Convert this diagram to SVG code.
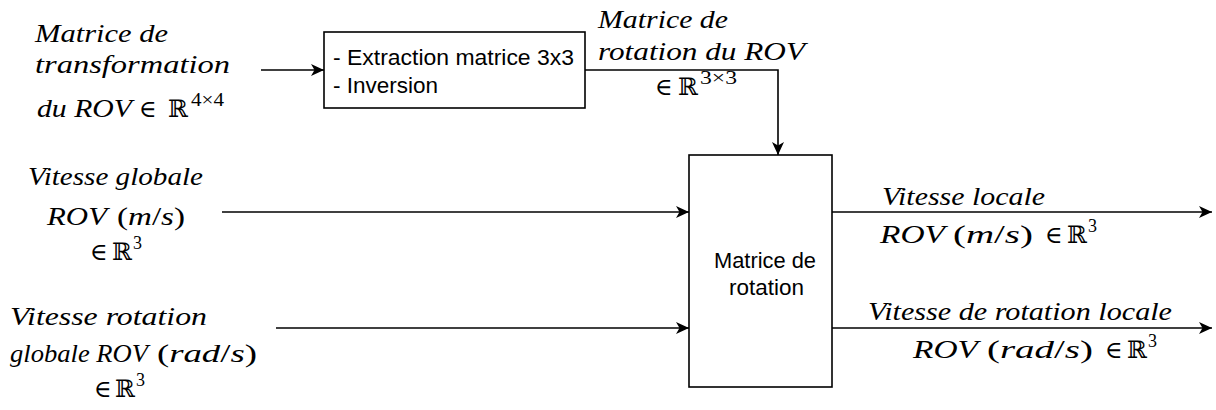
<svg xmlns="http://www.w3.org/2000/svg" width="1216" height="410" viewBox="0 0 1216 410">
<style>
.m{font-family:"Liberation Serif","DejaVu Serif",serif;font-style:italic;font-size:25px;fill:#000}
.u{font-style:normal}
.e{font-family:"DejaVu Serif","Liberation Serif",serif;font-style:normal;font-size:24px;fill:#000}
.r{font-family:"DejaVu Serif","Liberation Serif",serif;font-style:normal;font-size:24px;fill:#000}
.sup{font-family:"Liberation Serif","DejaVu Serif",serif;font-style:normal;font-size:18px;fill:#000}
.s{font-family:"Liberation Sans",Arial,sans-serif;font-size:22px;fill:#000}
.box{fill:#fff;stroke:#000;stroke-width:1.6}
.ln{fill:none;stroke:#000;stroke-width:1.6;marker-end:url(#ah)}
</style>
<defs>
<marker id="ah" viewBox="0 0 13 12" refX="13" refY="6" markerWidth="13" markerHeight="12" markerUnits="userSpaceOnUse" orient="auto">
<path d="M0,0 L13,6 L0,12 L3.5,6 z" fill="#000"/>
</marker>
</defs>
<rect width="1216" height="410" fill="#fff"/>
<g id="connectors">
<path class="ln" d="M261,70 H324"/>
<path class="ln" d="M585,70 H778 V155"/>
<path class="ln" d="M222,212 H689"/>
<path class="ln" d="M276,328 H689"/>
<path class="ln" d="M832,212 H1212"/>
<path class="ln" d="M832,328 H1212"/>
</g>
<g id="extraction">
<rect class="box" x="324" y="32" width="261" height="76"/>
<text class="s" x="333" y="65" textLength="241" lengthAdjust="spacingAndGlyphs">- Extraction matrice 3x3</text>
<text class="s" x="333" y="93" textLength="105" lengthAdjust="spacingAndGlyphs">- Inversion</text>
</g>
<g id="rotation">
<rect class="box" x="689" y="155" width="143" height="232"/>
<text class="s" x="714" y="268" textLength="102" lengthAdjust="spacingAndGlyphs">Matrice de</text>
<text class="s" x="729" y="295" textLength="75" lengthAdjust="spacingAndGlyphs">rotation</text>
</g>
<g id="label-transform">
<text class="m" x="35" y="42" textLength="133" lengthAdjust="spacingAndGlyphs">Matrice de</text>
<text class="m" x="35" y="73" textLength="195" lengthAdjust="spacingAndGlyphs">transformation</text>
<text class="m" x="37" y="117" textLength="95" lengthAdjust="spacingAndGlyphs">du ROV</text>
<text class="e" x="139" y="117">∈</text>
<text class="r" x="168" y="117">ℝ</text>
<text class="sup" x="191" y="106" textLength="33" lengthAdjust="spacingAndGlyphs">4×4</text>
</g>
<g id="label-rotmat">
<text class="m" x="598" y="28" textLength="130" lengthAdjust="spacingAndGlyphs">Matrice de</text>
<text class="m" x="598" y="60" textLength="207" lengthAdjust="spacingAndGlyphs">rotation du ROV</text>
<text class="e" x="655" y="95">∈</text>
<text class="r" x="678" y="95">ℝ</text>
<text class="sup" x="700" y="84" textLength="37" lengthAdjust="spacingAndGlyphs">3×3</text>
</g>
<g id="label-vglob">
<text class="m" x="28" y="185" textLength="175" lengthAdjust="spacingAndGlyphs">Vitesse globale</text>
<text class="m" x="47" y="225" textLength="60" lengthAdjust="spacingAndGlyphs">ROV</text>
<text class="m" x="117" y="225" textLength="68" lengthAdjust="spacingAndGlyphs"><tspan class="u">(</tspan>m<tspan class="u">/</tspan>s<tspan class="u">)</tspan></text>
<text class="e" x="90" y="260">∈</text>
<text class="r" x="112" y="260">ℝ</text>
<text class="sup" x="133" y="249">3</text>
</g>
<g id="label-vrot">
<text class="m" x="10" y="325" textLength="197" lengthAdjust="spacingAndGlyphs">Vitesse rotation</text>
<text class="m" x="10" y="362" textLength="138" lengthAdjust="spacingAndGlyphs">globale ROV</text>
<text class="m" x="157" y="362" textLength="100" lengthAdjust="spacingAndGlyphs"><tspan class="u">(</tspan>rad<tspan class="u">/</tspan>s<tspan class="u">)</tspan></text>
<text class="e" x="94" y="397">∈</text>
<text class="r" x="115" y="397">ℝ</text>
<text class="sup" x="136" y="386">3</text>
</g>
<g id="label-vloc">
<text class="m" x="882" y="205" textLength="163" lengthAdjust="spacingAndGlyphs">Vitesse locale</text>
<text class="m" x="880" y="243" textLength="65" lengthAdjust="spacingAndGlyphs">ROV</text>
<text class="m" x="953" y="243" textLength="80" lengthAdjust="spacingAndGlyphs"><tspan class="u">(</tspan>m<tspan class="u">/</tspan>s<tspan class="u">)</tspan></text>
<text class="e" x="1045" y="243">∈</text>
<text class="r" x="1067" y="243">ℝ</text>
<text class="sup" x="1088" y="232">3</text>
</g>
<g id="label-vrotloc">
<text class="m" x="868" y="320" textLength="304" lengthAdjust="spacingAndGlyphs">Vitesse de rotation locale</text>
<text class="m" x="913" y="358" textLength="65" lengthAdjust="spacingAndGlyphs">ROV</text>
<text class="m" x="987" y="358" textLength="106" lengthAdjust="spacingAndGlyphs"><tspan class="u">(</tspan>rad<tspan class="u">/</tspan>s<tspan class="u">)</tspan></text>
<text class="e" x="1105" y="358">∈</text>
<text class="r" x="1127" y="358">ℝ</text>
<text class="sup" x="1148" y="347">3</text>
</g>
</svg>
